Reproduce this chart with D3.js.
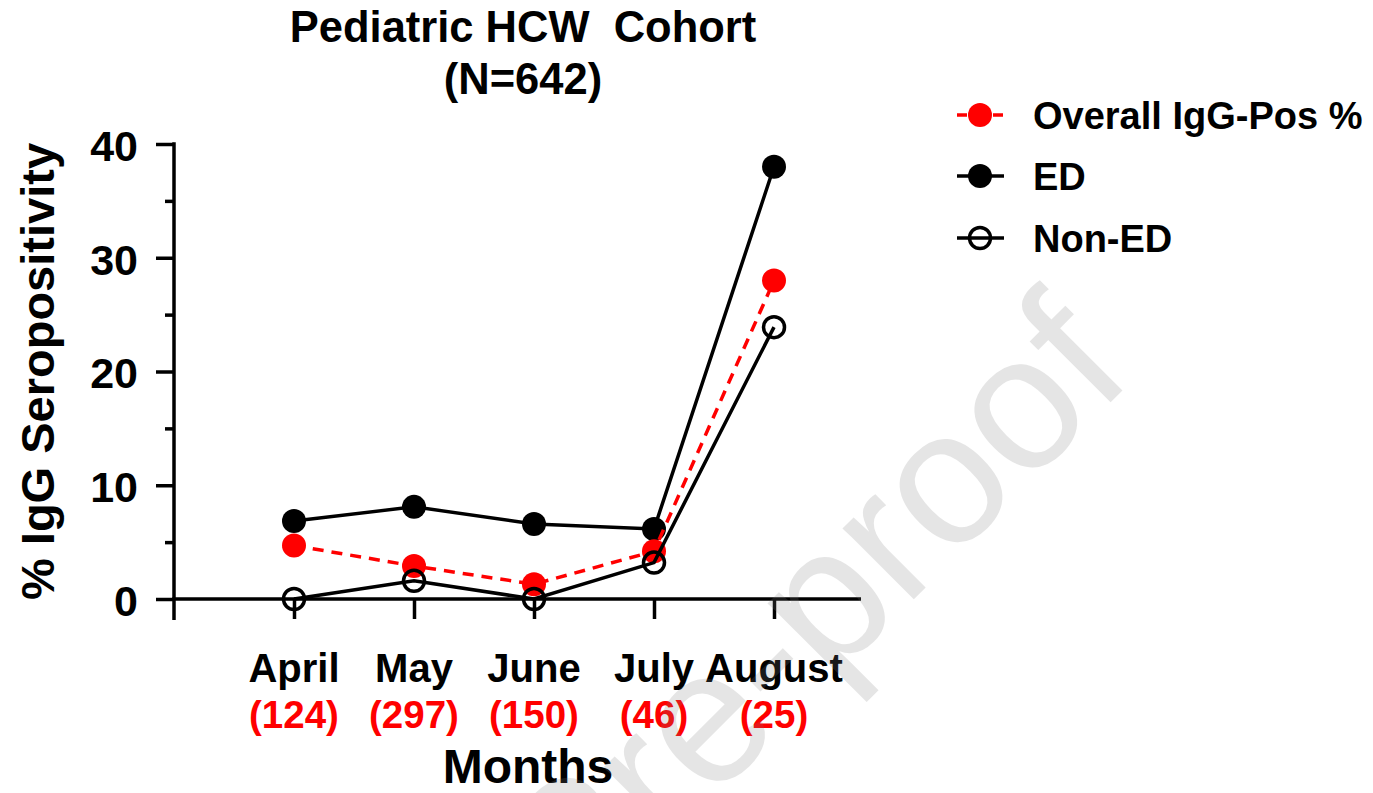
<!DOCTYPE html>
<html lang="en">
<head>
<meta charset="UTF-8">
<title>Pediatric HCW Cohort</title>
<script src="https://cdnjs.cloudflare.com/ajax/libs/d3/7.9.0/d3.min.js"></script>
<style>
    body { margin: 0; background: #fff; }
    svg text { font-family: "Liberation Sans", Arial, sans-serif; font-weight: bold; }
</style>
</head>
<body>
<div id="chart"></div>
<script>
    // values
    const months = ["April", "May", "June", "July", "August"];
    const counts = ["(124)", "(297)", "(150)", "(46)", "(25)"];
    const overall = [4.7, 2.9, 1.3, 4.2, 28.0];
    const ed = [6.85, 8.1, 6.6, 6.15, 38.0];
    const nonEd = [0, 1.6, 0, 3.2, 23.9];
    const yTicks = [0, 10, 20, 30, 40];
    const yMinor = [5, 15, 25, 35];

    const width = 1373, height = 793;

    const svg = d3.select("#chart")
        .append("svg")
        .attr("width", width)
        .attr("height", height);

    const x = d3.scalePoint()
        .domain(months)
        .range([174, 894])
        .padding(1);

    const y = d3.scaleLinear()
        .domain([0, 40])
        .range([599, 144]);

    const axisLeft = 174, axisRight = 861, axisY = y(0);

    // title
    svg.append("text")
        .attr("x", 523).attr("y", 42)
        .attr("text-anchor", "middle")
        .style("font-size", "43.5px")
        .style("white-space", "pre")
        .text("Pediatric HCW  Cohort");
    svg.append("text")
        .attr("x", 523).attr("y", 94)
        .attr("text-anchor", "middle")
        .style("font-size", "43.5px")
        .text("(N=642)");

    // y axis
    const gy = svg.append("g")
        .attr("transform", `translate(${axisLeft},0)`)
        .call(d3.axisLeft(y).tickValues(yTicks).tickSize(18).tickPadding(18));
    gy.select(".domain").remove();
    gy.selectAll(".tick line").attr("stroke", "#000").attr("stroke-width", 3.5);
    gy.selectAll(".tick text")
        .attr("fill", "#000")
        .style("font-size", "43px")
        .attr("dy", "0.38em");

    const gyMinor = svg.append("g")
        .attr("transform", `translate(${axisLeft},0)`)
        .call(d3.axisLeft(y).tickValues(yMinor).tickSize(9).tickFormat(""));
    gyMinor.select(".domain").remove();
    gyMinor.selectAll(".tick line").attr("stroke", "#000").attr("stroke-width", 3.5);

    svg.append("line")
        .attr("x1", axisLeft).attr("x2", axisLeft)
        .attr("y1", y(40) - 1.75).attr("y2", axisY + 21)
        .attr("stroke", "#000").attr("stroke-width", 3.5);

    // x axis
    const gx = svg.append("g")
        .attr("transform", `translate(0,${axisY})`)
        .call(d3.axisBottom(x).tickSize(20).tickFormat(""));
    gx.select(".domain").remove();
    gx.selectAll(".tick line").attr("stroke", "#000").attr("stroke-width", 3.5);

    svg.append("line")
        .attr("x1", axisLeft - 1.75).attr("x2", axisRight)
        .attr("y1", axisY).attr("y2", axisY)
        .attr("stroke", "#000").attr("stroke-width", 3.5);

    svg.selectAll(".month")
        .data(months)
        .enter().append("text")
        .attr("class", "month")
        .attr("x", d => x(d))
        .attr("y", 682)
        .attr("text-anchor", "middle")
        .style("font-size", "40px")
        .text(d => d);

    svg.selectAll(".count")
        .data(counts)
        .enter().append("text")
        .attr("class", "count")
        .attr("x", (d, i) => x(months[i]))
        .attr("y", 728)
        .attr("text-anchor", "middle")
        .attr("fill", "#ff0000")
        .style("font-size", "38.5px")
        .text(d => d);

    svg.append("text")
        .attr("x", 528).attr("y", 783)
        .attr("text-anchor", "middle")
        .style("font-size", "48px")
        .text("Months");

    svg.append("text")
        .attr("transform", `translate(54,${(y(0) + y(40)) / 2}) rotate(-90)`)
        .attr("text-anchor", "middle")
        .style("font-size", "47px")
        .text("% IgG Seropositivity");

    // series
    const line = d3.line()
        .x((d, i) => x(months[i]))
        .y(d => y(d));

    svg.append("path")
        .datum(ed)
        .attr("fill", "none")
        .attr("stroke", "#000")
        .attr("stroke-width", 3.5)
        .attr("d", line);
    svg.selectAll(".ed-dot")
        .data(ed)
        .enter().append("circle")
        .attr("class", "ed-dot")
        .attr("cx", (d, i) => x(months[i]))
        .attr("cy", d => y(d))
        .attr("r", 12)
        .attr("fill", "#000");

    svg.append("path")
        .datum(overall)
        .attr("fill", "none")
        .attr("stroke", "#ff0000")
        .attr("stroke-width", 3.5)
        .attr("stroke-dasharray", "11,8")
        .attr("d", line);
    svg.selectAll(".all-dot")
        .data(overall)
        .enter().append("circle")
        .attr("class", "all-dot")
        .attr("cx", (d, i) => x(months[i]))
        .attr("cy", d => y(d))
        .attr("r", 12)
        .attr("fill", "#ff0000");

    svg.append("path")
        .datum(nonEd)
        .attr("fill", "none")
        .attr("stroke", "#000")
        .attr("stroke-width", 3.5)
        .attr("d", line);
    svg.selectAll(".non-dot")
        .data(nonEd)
        .enter().append("circle")
        .attr("class", "non-dot")
        .attr("cx", (d, i) => x(months[i]))
        .attr("cy", d => y(d))
        .attr("r", 10.5)
        .attr("fill", "none")
        .attr("stroke", "#000")
        .attr("stroke-width", 3.5);

    // legend
    const legend = svg.append("g").attr("transform", "translate(980,0)");
    const rows = [
        { label: "Overall IgG-Pos %", y: 115, color: "#ff0000", dash: "10,8", fill: "#ff0000" },
        { label: "ED", y: 176, color: "#000", dash: null, fill: "#000" },
        { label: "Non-ED", y: 238, color: "#000", dash: null, fill: "none" }
    ];
    rows.forEach(r => {
        legend.append("line")
            .attr("x1", -23).attr("x2", 24)
            .attr("y1", r.y).attr("y2", r.y)
            .attr("stroke", r.color)
            .attr("stroke-width", 3.5)
            .attr("stroke-dasharray", r.dash);
        legend.append("circle")
            .attr("cx", 0).attr("cy", r.y)
            .attr("r", r.fill === "none" ? 10.5 : 12)
            .attr("fill", r.fill)
            .attr("stroke", r.fill === "none" ? "#000" : null)
            .attr("stroke-width", 3.5);
        legend.append("text")
            .attr("x", 53).attr("y", r.y)
            .attr("dy", "0.36em")
            .style("font-size", "38px")
            .text(r.label);
    });

    // watermark
    svg.append("text")
        .attr("transform", "translate(1136,377) rotate(-45)")
        .attr("text-anchor", "end")
        .attr("fill", "#7f7f7f")
        .attr("opacity", 0.2)
        .style("font-weight", "normal")
        .style("font-size", "190px")
        .text("Journal Pre-proof");
</script>
</body>
</html>
